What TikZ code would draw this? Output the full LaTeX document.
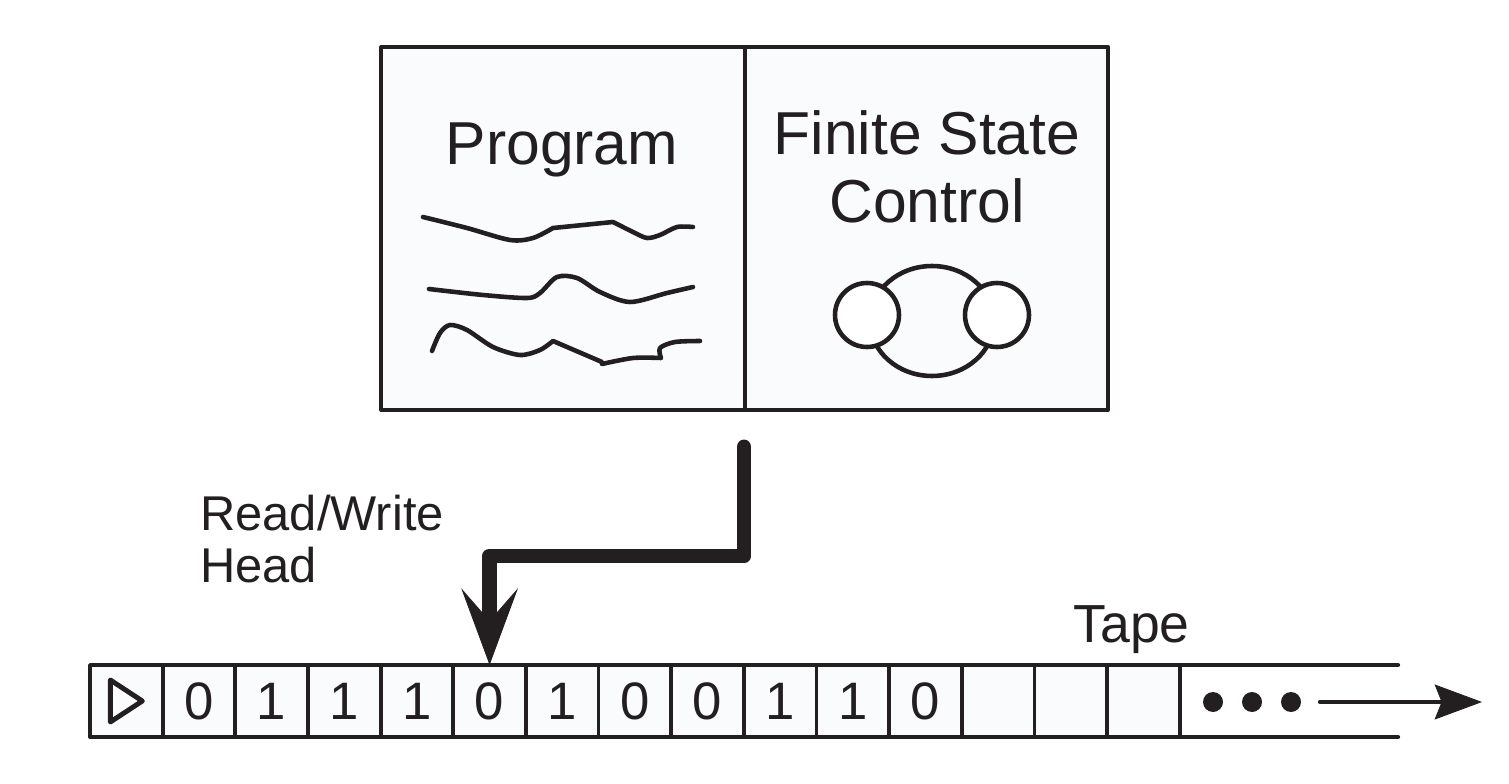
\documentclass[tikz,border=0pt]{standalone}
\usepackage{fontspec}
\setmainfont{Liberation Sans}
\usetikzlibrary{arrows.meta,positioning,shapes.geometric}
\definecolor{ink}{HTML}{231F20}
\definecolor{paper}{HTML}{FAFBFD}

\begin{document}
\begin{tikzpicture}[x=0.02cm, y=-0.02cm, line cap=round, line join=round,
	panel/.style={draw=ink, fill=paper, line width=2.2pt, minimum width=7.27cm, minimum height=7.26cm, inner sep=0pt, outer sep=0pt},
	cell/.style={draw=ink, fill=paper, line width=2.2pt, minimum width=1.4533cm, minimum height=1.44cm, inner sep=0pt, outer sep=0pt, text=ink, font=\fontsize{30}{30}\selectfont},
	big/.style={text=ink, inner sep=0pt, align=center, font=\fontsize{34.5}{39}\selectfont},
	small/.style={text=ink, inner sep=0pt, align=left, font=\fontsize{27.8}{30}\selectfont},
	scrawl/.style={draw=ink, line width=2.6pt},
	state/.style={circle, draw=ink, fill=white, line width=2.6pt, minimum size=1.28cm, inner sep=0pt},
	headline/.style={draw=ink, line width=8.5pt, -{Stealth[length=43.7pt, width=32.3pt, inset=18.5pt, line width=0.5pt]}}]

	\useasboundingbox (0,0) rectangle (1509,784);

	% machine
	\node[panel] (prog) at (563,228.5) {};
	\node[panel] (fsc) [right=0pt of prog] {};

	\node[big, anchor=base] (progtxt) at (562,165) {Program};
	\node[big] (fsctxt) at (927,167) {Finite State\\Control};

	% program scribbles
	\draw[scrawl] plot[smooth] coordinates {(423,217) (467,228) (510,240) (533,238) (553,228)}
		-- (613,222) -- plot[smooth] coordinates {(613,222) (633,232) (647,238) (660,235) (677,227) (693,227)};
	\draw[scrawl] plot[smooth] coordinates {(429,289) (483,295) (527,298) (540,293) (557,277) (577,278) (600,292) (630,302) (667,293) (693,287)};
	\draw[scrawl] plot[smooth] coordinates {(432,351) (440,333) (450,325) (467,330) (493,347) (520,355) (540,350) (553,341)}
		-- (602,362) -- plot[smooth] coordinates {(602,364) (633,358) (661,358)}
		-- plot[smooth] coordinates {(661,358) (660,348) (675,342) (700,341)};

	% state diagram
	\node[draw=ink, ellipse, line width=2.6pt, minimum width=2.48cm, minimum height=2.2cm] (loop) at (932,321) {};
	\node[state] (q0) at (867,315) {};
	\node[state] (q1) at (997,315) {};

	% tape
	\node[cell] (c0) at (126.33,701) {};
	\foreach \d [count=\i, remember=\i as \j (initially 0)] in {0,1,1,1,0,1,0,0,1,1,0,{},{},{}}
		\node[cell, right=0pt of c\j] (c\i) {\d};
	\draw[ink, line width=2.8pt, shift={(c0.center)}] (-16,-21) -- (16,0) -- (-16,21) -- cycle;

	\coordinate (tapeend) at (1398,701);
	\draw[ink, line width=2.4pt] (c14.north east) -- (c14.north east -| tapeend);
	\draw[ink, line width=2.4pt] (c14.south east) -- (c14.south east -| tapeend);

	\foreach \x in {1213,1252,1291}
		\fill[ink] (\x,702) circle [radius=10];
	\coordinate (more) at (1320,702);
	\coordinate (moreend) at (1482,702);
	\draw[ink, line width=2.5pt, -{Stealth[length=27pt, width=20pt, inset=4pt, line width=0.5pt]}] (more) -- (moreend);

	\node[small, anchor=base west, font=\fontsize{30.5}{30}\selectfont] (tape) at (1073,642) {Tape};

	% head
	\node[small, anchor=west] (rw) at (200,539) {Read/Write\\Head};
	\coordinate (hd) at (744,447);
	\draw[headline] (hd) |- (c5.north |- 0,556) -- (c5.north);

\end{tikzpicture}
\end{document}
